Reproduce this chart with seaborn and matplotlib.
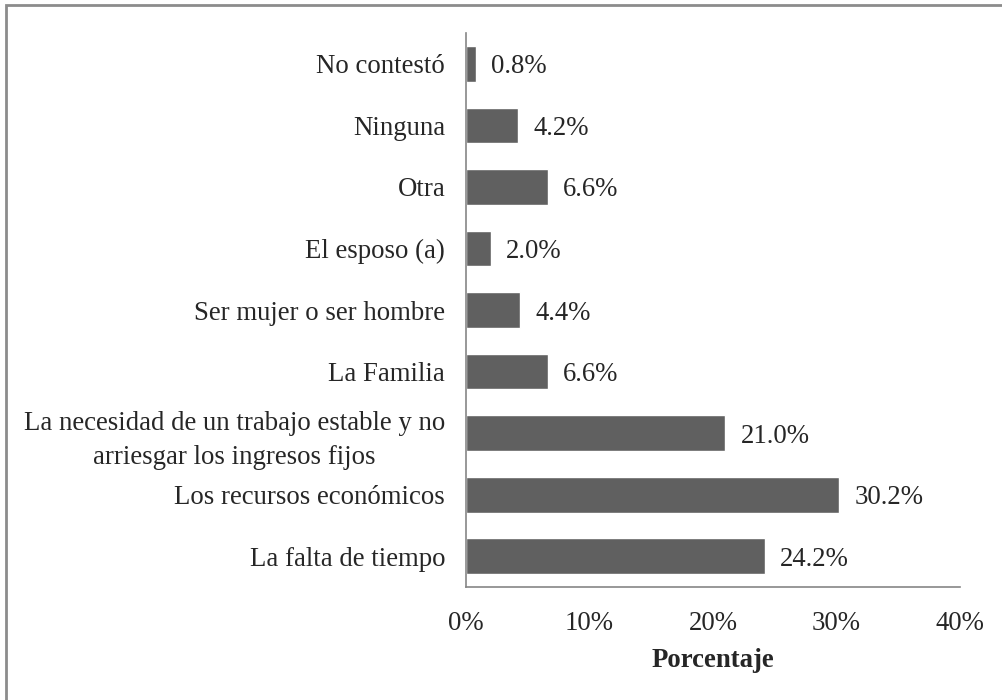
import pandas as pd
import matplotlib.pyplot as plt
import seaborn as sns
from matplotlib.patches import Rectangle

# Datos (de arriba hacia abajo)
categorias = [
    'No contestó',
    'Ninguna',
    'Otra',
    'El esposo (a)',
    'Ser mujer o ser hombre',
    'La Familia',
    'La necesidad de un trabajo estable y no\narriesgar los ingresos fijos',
    'Los recursos económicos',
    'La falta de tiempo',
]
porcentajes = [0.8, 4.2, 6.6, 2.0, 4.4, 6.6, 21.0, 30.2, 24.2]
ticks_x = [0, 10, 20, 30, 40]

df = pd.DataFrame({'categoria': categorias, 'porcentaje': porcentajes})

sns.set_style('white')
plt.rcParams['font.family'] = ['Liberation Serif', 'DejaVu Serif']
fs = 19.3

fig = plt.figure(figsize=(10.03, 7), dpi=100)
ax = fig.add_axes([0.4646, 0.1614, 0.4925, 0.7914])

sns.barplot(data=df, x='porcentaje', y='categoria', orient='h', color='#606060',
            saturation=1, width=0.58, ax=ax)

for i, v in enumerate(porcentajes):
    ax.text(v + 1.25, i, f'{v:.1f}%', va='center_baseline', ha='left', fontsize=fs)

ax.set_xlim(0, 40)
ax.set_ylim(8.5, -0.5)
ax.set_xticks(ticks_x)
ax.set_xticklabels([f'{t}%' for t in ticks_x], fontsize=fs)
ax.tick_params(axis='x', length=0, pad=17)
ax.tick_params(axis='y', length=0, pad=15, labelsize=fs)
ax.set_ylabel('')
ax.set_xlabel('Porcentaje', fontsize=fs, fontweight='bold', labelpad=9)
for lbl in ax.get_yticklabels():
    lbl.set_multialignment('center')
    lbl.set_linespacing(1.45)
    lbl.set_verticalalignment('center_baseline')

for s in ['top', 'right']:
    ax.spines[s].set_visible(False)
for s in ['left', 'bottom']:
    ax.spines[s].set_color('#868686')
    ax.spines[s].set_linewidth(1.2)

# marco del gráfico
fig.patches.append(Rectangle((6 / 1003, -0.05), 1.1, (700 - 4.5) / 700 + 0.05,
                             transform=fig.transFigure, fill=False,
                             edgecolor='#8c8c8c', linewidth=2, clip_on=False))

fig.savefig('out.png', dpi=100)
